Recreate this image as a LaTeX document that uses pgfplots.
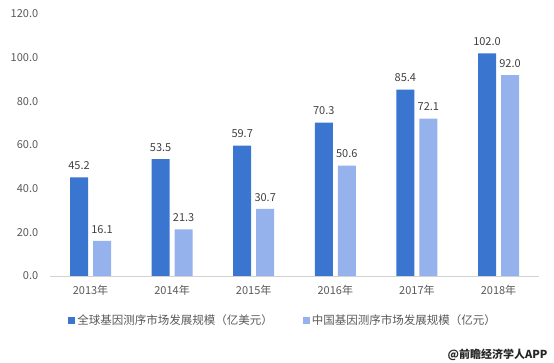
\documentclass[border=0pt]{standalone}
\usepackage{fontspec}
\setmainfont{Noto Sans CJK SC}
\usepackage{pgfplots}
\pgfplotsset{compat=1.18}
\definecolor{darkb}{HTML}{3A76CF}
\definecolor{lightb}{HTML}{95B2EC}
\definecolor{txt}{HTML}{595959}
\definecolor{lbl}{HTML}{404040}
\begin{document}
\begin{tikzpicture}[x=1pt,y=1pt]
\path[use as bounding box] (0,0) rectangle (554,363);
\begin{axis}[
  at={(49.7pt,87pt)}, anchor=south west,
  scale only axis, width=489.6pt, height=262pt,
  xmin=-0.5, xmax=5.5, ymin=0, ymax=120,
  ybar, bar width=18pt,
  ytick={0,20,...,120},
  xtick={0,1,2,3,4,5},
  xticklabels={2013年,2014年,2015年,2016年,2017年,2018年},
  axis x line*=bottom, axis y line*=left,
  x axis line style={draw=gray!35, line width=0.8pt},
  y axis line style={draw=none},
  major tick length=0pt,
  /pgf/number format/assume math mode=true,
  yticklabel style={/pgf/number format/fixed,/pgf/number format/fixed zerofill,/pgf/number format/precision=1, font=\fontsize{11}{12}\selectfont, text=txt, xshift=-8pt},
  xticklabel style={font=\fontsize{11}{12}\selectfont, text=txt, yshift=-6pt},
  nodes near coords,
  nodes near coords style={/pgf/number format/fixed,/pgf/number format/fixed zerofill,/pgf/number format/precision=1, font=\fontsize{11}{12}\selectfont, text=lbl, yshift=4pt},
  legend style={at={(0.477,-0.168)}, anchor=center, draw=none, fill=none, legend columns=2, font=\fontsize{11.5}{13}\selectfont, text=txt, /tikz/every even column/.append style={column sep=28pt}},
  legend image code/.code={\fill[#1] (0pt,-3.5pt) rectangle (7pt,3.5pt);},
]
\addplot[fill=darkb, draw=none, bar shift=-11.5pt] coordinates {(0,45.2) (1,53.5) (2,59.7) (3,70.3) (4,85.4) (5,102.0)};
\addplot[fill=lightb, draw=none, bar shift=11.5pt] coordinates {(0,16.1) (1,21.3) (2,30.7) (3,50.6) (4,72.1) (5,92.0)};
\legend{全球基因测序市场发展规模（亿美元）,中国基因测序市场发展规模（亿元）}
\end{axis}
\node[anchor=east, font=\fontsize{11}{12}\selectfont\bfseries, text=black!85] at (551,8) {@前瞻经济学人APP};
\end{tikzpicture}
\end{document}
